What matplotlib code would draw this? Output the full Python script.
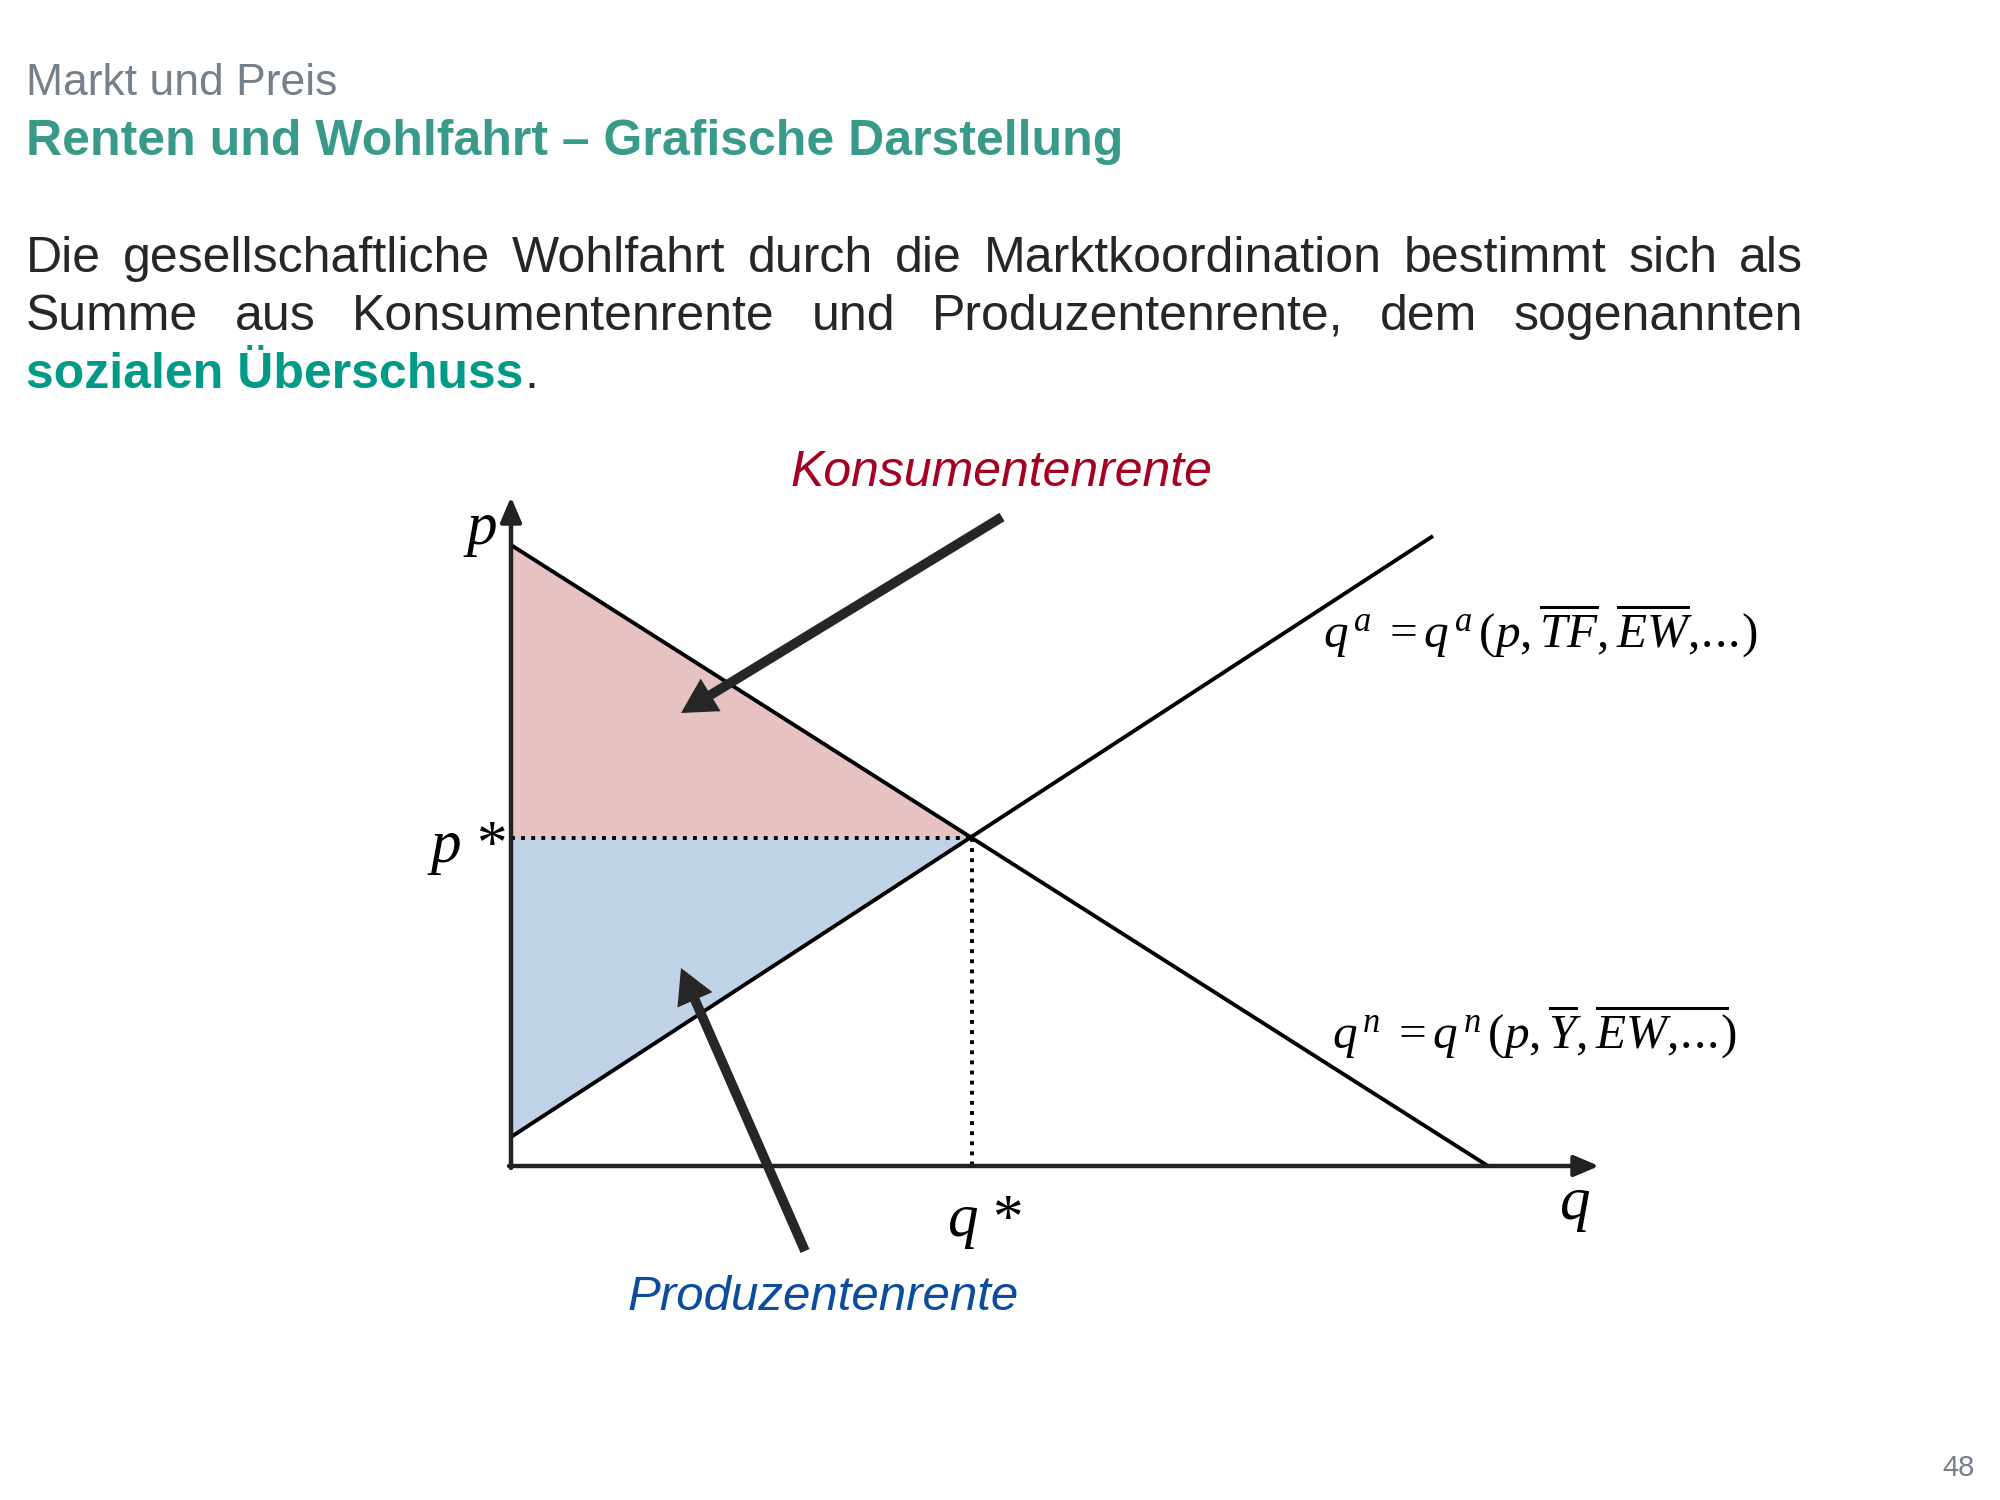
import matplotlib
matplotlib.use("Agg")
import matplotlib.pyplot as plt

plt.rcParams['font.family'] = ['Liberation Sans', 'DejaVu Sans']
plt.rcParams['mathtext.fontset'] = 'custom'
plt.rcParams['mathtext.rm'] = 'Liberation Serif'
plt.rcParams['mathtext.it'] = 'Liberation Serif:italic'
plt.rcParams['mathtext.bf'] = 'Liberation Serif:bold'

W, H = 2000, 1500

# diagram values (1 unit = 100 px of the slide)
demand_q = [0.0, 9.77]
demand_p = [6.21, 0.0]
supply_q = [0.0, 9.22]
supply_p = [0.29, 6.30]
q_star = 4.61
p_star = 3.28
x_max, y_max = 10.88, 6.66

# header / body text
subtitle = "Markt und Preis"
title = "Renten und Wohlfahrt \u2013 Grafische Darstellung"
line1 = "Die gesellschaftliche Wohlfahrt durch die Marktkoordination bestimmt sich als"
line2 = "Summe aus Konsumentenrente und Produzentenrente, dem sogenannten"
highlight = "sozialen \u00dcberschuss"
page_no = "48"

gray = '#76808a'
teal = '#3a9a8a'
teal2 = '#009a86'
txt = '#262626'
red = '#a50021'
blue = '#0b4d9c'
pink = '#e6c2c3'
lblue = '#bfd2e6'


def fx(px):
    return px / W


def fy(py):
    return 1 - py / H


fig = plt.figure(figsize=(20, 15), dpi=100)
fig.patch.set_facecolor('white')
renderer = fig.canvas.get_renderer()

fig.text(fx(26), fy(95), subtitle, fontsize=32, color=gray, va='baseline')
fig.text(fx(26), fy(155), title, fontsize=36, color=teal, fontweight='bold', va='baseline')


def justify(line, ybase, x0, x1, **kw):
    words = line.split()
    texts = [fig.text(0, fy(ybase), w, va='baseline', **kw) for w in words]
    widths = [t.get_window_extent(renderer).width for t in texts]
    gap = (x1 - x0 - sum(widths)) / (len(words) - 1)
    x = x0
    for t, w in zip(texts, widths):
        t.set_x(fx(x))
        x += w + gap


justify(line1, 272, 26, 1803, fontsize=36, color=txt)
justify(line2, 330, 26, 1803, fontsize=36, color=txt)
hl = fig.text(fx(26), fy(388), highlight, fontsize=36, color=teal2,
              fontweight='bold', va='baseline')
hw = hl.get_window_extent(renderer).width
fig.text(fx(26 + hw + 1), fy(388), ".", fontsize=36, color=txt, va='baseline')

fig.text(fx(1975), fy(1476), page_no, fontsize=21, color=gray, ha='right', va='baseline')

# diagram axes: origin at (511, 1166) px
ax = fig.add_axes([fx(511), fy(1166), (x_max * 100) / W, (y_max * 100) / H])
ax.set_xlim(0, x_max)
ax.set_ylim(0, y_max)
ax.axis('off')

# surplus areas
ax.fill([0, 0, q_star], [demand_p[0], p_star, p_star], color=pink, lw=0, zorder=1)
ax.fill([0, 0, q_star], [p_star, supply_p[0], p_star], color=lblue, lw=0, zorder=1)

# curves
ax.plot(demand_q, demand_p, color='black', lw=2.8, zorder=3, solid_capstyle='butt')
ax.plot(supply_q, supply_p, color='black', lw=2.8, zorder=3, solid_capstyle='butt')

# dotted guides
ax.plot([0, q_star], [p_star, p_star], color='black', lw=2.8,
        linestyle=(0, (1.0, 1.6)), zorder=2)
ax.plot([q_star, q_star], [p_star, 0], color='black', lw=2.8,
        linestyle=(0, (1.0, 1.6)), zorder=2)

# coordinate axes with arrow heads
axis_kw = dict(arrowstyle='-|>,head_length=0.75,head_width=0.32', mutation_scale=20,
               color='#222222', lw=3.2, shrinkA=0, shrinkB=0)
ax.annotate('', xy=(0, y_max + 0.03), xytext=(0, -0.02), arrowprops=axis_kw,
            annotation_clip=False, zorder=4)
ax.annotate('', xy=(x_max, 0), xytext=(-0.02, 0), arrowprops=axis_kw,
            annotation_clip=False, zorder=4)

# pointer arrows
ptr_kw = dict(arrowstyle='simple,head_length=0.5,head_width=0.55,tail_width=0.14',
              mutation_scale=50, color='#262626', lw=0, shrinkA=0, shrinkB=0)
ax.annotate('', xy=(1.70, 4.53), xytext=(4.91, 6.49), arrowprops=ptr_kw,
            annotation_clip=False, zorder=5)
ax.annotate('', xy=(1.70, 1.98), xytext=(2.94, -0.85), arrowprops=ptr_kw,
            annotation_clip=False, zorder=5)

ax.text(4.90, 6.93, "Konsumentenrente", fontsize=36, style='italic', color=red,
        ha='center', va='center', clip_on=False)
ax.text(3.12, -1.32, "Produzentenrente", fontsize=35.5, style='italic', color=blue,
        ha='center', va='center', clip_on=False)

# axis labels
lab_kw = dict(fontsize=44, family='Liberation Serif', va='baseline', ha='center',
              clip_on=False)
ax.text(-0.31, 6.22, r"$p$", **lab_kw)
ax.text(-0.44, 3.04, r"$p$ *", **lab_kw)
ax.text(4.74, -0.70, r"$q$ *", **lab_kw)
ax.text(10.64, -0.53, r"$q$", **lab_kw)

# function labels
fn_kw = dict(fontsize=35.5, family='Liberation Serif', ha='left', va='baseline',
             clip_on=False)
ax.text(8.12, 5.19,
        r"$q^{\,a}\;=q^{\,a}\,(p,\overline{TF},\overline{EW},\!.\!.\!.\!)$", **fn_kw)
ax.text(8.21, 1.18,
        r"$q^{\,n}\;=q^{\,n}\,(p,\overline{Y},\overline{EW,\!.\!.\!.}\!)$", **fn_kw)

fig.savefig('out.png', dpi=100, facecolor='white')
